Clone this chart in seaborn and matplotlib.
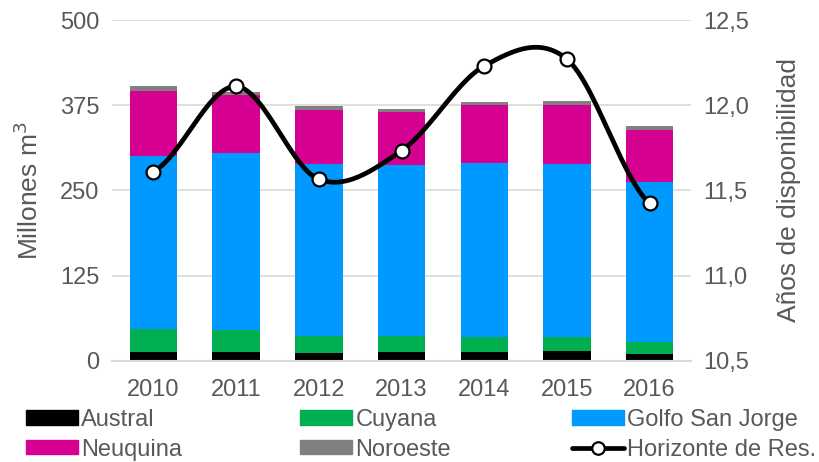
import numpy as np
import pandas as pd
import seaborn as sns
from matplotlib import pyplot as plt
from matplotlib.lines import Line2D
from matplotlib.patches import Patch

# Data (millones m3 per basin, stacked) + horizonte de reservas (years)
years = ["2010", "2011", "2012", "2013", "2014", "2015", "2016"]
austral = [13.2, 12.2, 11.7, 13.2, 12.8, 14.7, 10.3]
cuyana = [32.9, 33.3, 24.6, 22.6, 22.4, 19.6, 17.6]
golfo = [254.5, 259.0, 252.1, 251.6, 255.5, 255.0, 234.5]
neuquina = [94.7, 84.9, 80.2, 78.2, 84.3, 86.2, 76.8]
noroeste = [7.4, 5.0, 5.8, 4.4, 5.3, 5.9, 5.0]
horizonte = [11.61, 12.11, 11.565, 11.733, 12.23, 12.27, 11.424]

names = ["Austral", "Cuyana", "Golfo San Jorge", "Neuquina", "Noroeste"]
colors = ["#000000", "#00B050", "#0099FF", "#D60093", "#808080"]
txt = "#595959"

sns.set_style("white")
plt.rcParams['font.family'] = ['Liberation Sans', 'DejaVu Sans']
plt.rcParams['font.size'] = 17

df = pd.DataFrame({"year": years, "Austral": austral, "Cuyana": cuyana,
                   "Golfo San Jorge": golfo, "Neuquina": neuquina, "Noroeste": noroeste})
cum = df[names].cumsum(axis=1)

fig = plt.figure(figsize=(8.19, 4.62), dpi=100)
ax = fig.add_axes([0.1368, 0.2193, 0.7069, 0.7374])

# stacked bars: draw cumulative totals from the top layer down
for name, col in reversed(list(zip(names, colors))):
    sns.barplot(x=df["year"], y=cum[name], color=col, width=0.573,
                saturation=1, linewidth=0, ax=ax, zorder=2)

ax.set_ylim(0, 500)
ax.set_xlim(-0.5, 6.5)
ax.set_yticks([0, 125, 250, 375, 500])
ax.yaxis.grid(True, color="#d9d9d9", linewidth=1.2, zorder=0)
ax.set_axisbelow(True)
for s in ["top", "right", "left"]:
    ax.spines[s].set_visible(False)
ax.spines["bottom"].set_color("#d9d9d9")
ax.spines["bottom"].set_linewidth(1.5)
ax.tick_params(axis="x", length=0, colors=txt, labelsize=17, pad=13)
ax.tick_params(axis="y", length=0, colors=txt, labelsize=17, pad=9)
ax.set_xlabel("")
ax.set_ylabel("Millones m$^3$", color=txt, fontsize=19, labelpad=12)

# smooth line (Catmull-Rom like Excel smoothed line) on secondary axis
ax2 = ax.twinx()
x = np.arange(len(years))
y = np.array(horizonte)
yp = np.concatenate([[y[0]], y, [y[-1]]])
xs, ys = [], []
for i in range(len(y) - 1):
    p0, p1, p2, p3 = yp[i], yp[i + 1], yp[i + 2], yp[i + 3]
    m1 = (p2 - p0) / 2
    m2 = (p3 - p1) / 2
    t = np.linspace(0, 1, 30)
    h00 = 2 * t**3 - 3 * t**2 + 1
    h10 = t**3 - 2 * t**2 + t
    h01 = -2 * t**3 + 3 * t**2
    h11 = t**3 - t**2
    xs.append(x[i] + t)
    ys.append(h00 * p1 + h10 * m1 + h01 * p2 + h11 * m2)
ax2.plot(np.concatenate(xs), np.concatenate(ys), color="black", lw=3.4, zorder=3,
         solid_capstyle="round")
ax2.plot(x, y, linestyle="none", marker="o", markersize=10, markerfacecolor="white",
         markeredgecolor="black", markeredgewidth=1.6, zorder=4)
ax2.set_ylim(10.5, 12.5)
ax2.set_yticks([10.5, 11.0, 11.5, 12.0, 12.5])
ax2.set_yticklabels(["10,5", "11,0", "11,5", "12,0", "12,5"])
ax2.tick_params(axis="y", length=0, colors=txt, labelsize=17, pad=9)
for s in ax2.spines.values():
    s.set_visible(False)
ax2.set_ylabel("Años de disponibilidad", color=txt, fontsize=19, labelpad=20)

# legend in three columns
cols = [
    [Patch(color=colors[0], label="Austral"), Patch(color=colors[3], label="Neuquina")],
    [Patch(color=colors[1], label="Cuyana"), Patch(color=colors[4], label="Noroeste")],
    [Patch(color=colors[2], label="Golfo San Jorge"),
     Line2D([0], [0], color="black", lw=3.4, marker="o", markersize=9,
            markerfacecolor="white", markeredgecolor="black", markeredgewidth=1.6,
            label="Horizonte de Res.")],
]
xpos = [0.0317, 0.3663, 0.6984]
for hs, xp in zip(cols, xpos):
    fig.legend(handles=hs, loc="upper left", bbox_to_anchor=(xp, 0.115), frameon=False,
               borderpad=0, borderaxespad=0, handlelength=2.2, handleheight=0.55,
               handletextpad=0.15, labelspacing=0.33, fontsize=17, labelcolor=txt)

fig.savefig("out.png", dpi=100)
